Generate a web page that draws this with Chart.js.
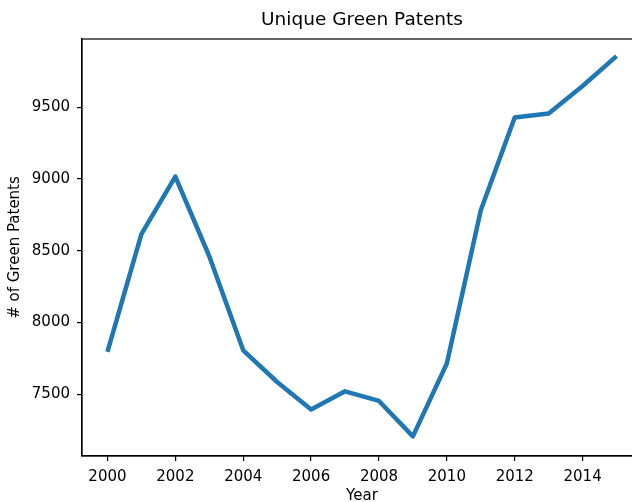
<!DOCTYPE html>
<html>
<head>
<meta charset="utf-8">
<script src="https://cdn.jsdelivr.net/npm/chart.js@4.4.1/dist/chart.umd.min.js"></script>
<style>
    html, body { margin: 0; padding: 0; background: #fff; overflow: hidden; }
    #wrap { width: 642px; height: 502px; position: relative; }
</style>
</head>
<body>
<div id="wrap"><canvas id="patentsChart"></canvas></div>
<script>
// Datos
const years = [2000, 2001, 2002, 2003, 2004, 2005, 2006, 2007, 2008, 2009, 2010, 2011, 2012, 2013, 2014, 2015];
const patents = [7795, 8616, 9018, 8462, 7806, 7585, 7393, 7520, 7453, 7206, 7714, 8783, 9430, 9458, 9649, 9858];
const xTicks = [2000, 2002, 2004, 2006, 2008, 2010, 2012, 2014];
const yTicks = [7500, 8000, 8500, 9000, 9500];

const FONT = 'DejaVu Sans';

// marco completo (spine superior / derecha)
const framePlugin = {
    id: 'frame',
    afterDraw(chart) {
        const a = chart.chartArea;
        const ctx = chart.ctx;
        ctx.save();
        ctx.strokeStyle = '#000';
        ctx.lineWidth = 1.2;
        ctx.strokeRect(a.left, a.top, a.right - a.left, a.bottom - a.top);
        ctx.restore();
    }
};

document.addEventListener('DOMContentLoaded', function () {
    const ctx = document.getElementById('patentsChart');
    new Chart(ctx, {
        type: 'line',
        data: {
            datasets: [{
                data: years.map((y, i) => ({ x: y, y: patents[i] })),
                borderColor: '#1f77b4',
                borderWidth: 4.5,
                pointRadius: 0,
                tension: 0,
                borderJoinStyle: 'round',
                fill: false
            }]
        },
        plugins: [framePlugin],
        options: {
            responsive: true,
            maintainAspectRatio: false,
            animation: false,
            layout: { padding: 0 },
            plugins: {
                legend: { display: false },
                tooltip: { enabled: false },
                title: {
                    display: true,
                    fullSize: false,
                    text: 'Unique Green Patents',
                    color: '#000',
                    font: { family: FONT, size: 18.5, weight: 'normal', lineHeight: 1.2 },
                    padding: { top: 9, bottom: 7.8 }
                }
            },
            scales: {
                x: {
                    type: 'linear',
                    min: 1999.25,
                    max: 2015.75,
                    afterFit: (scale) => { scale.height = 46; },
                    afterBuildTicks: (scale) => { scale.ticks = xTicks.map(v => ({ value: v })); },
                    grid: { display: true, drawOnChartArea: false, drawTicks: true, tickLength: 5, color: '#000', lineWidth: 1.2 },
                    border: { display: true, color: '#000', width: 1.2 },
                    ticks: {
                        color: '#000',
                        padding: 7,
                        maxRotation: 0,
                        font: { family: FONT, size: 15 },
                        callback: (v) => String(v)
                    },
                    title: {
                        display: true,
                        text: 'Year',
                        color: '#000',
                        font: { family: FONT, size: 15, lineHeight: 0.8 },
                        padding: 0
                    }
                },
                y: {
                    min: 7069,
                    max: 9977,
                    afterFit: (scale) => { scale.width = 82; },
                    afterBuildTicks: (scale) => { scale.ticks = yTicks.map(v => ({ value: v })); },
                    grid: { display: true, drawOnChartArea: false, drawTicks: true, tickLength: 5, color: '#000', lineWidth: 1.2 },
                    border: { display: true, color: '#000', width: 1.2 },
                    ticks: {
                        color: '#000',
                        padding: 7,
                        font: { family: FONT, size: 15 },
                        callback: (v) => String(v)
                    },
                    title: {
                        display: true,
                        text: '# of Green Patents',
                        color: '#000',
                        font: { family: FONT, size: 15, lineHeight: 1.2 },
                        padding: { top: 6, bottom: 0 }
                    }
                }
            }
        }
    });
});
</script>
</body>
</html>
